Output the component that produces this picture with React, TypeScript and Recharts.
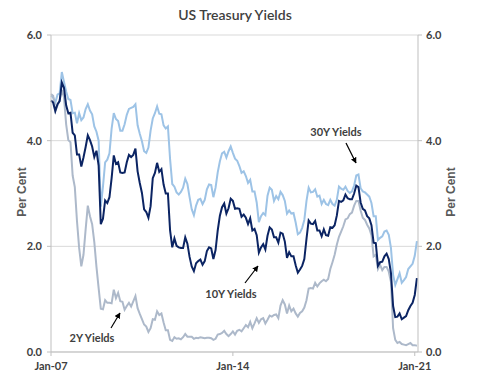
import { LineChart, Line, XAxis, YAxis, CartesianGrid } from "recharts";

// monthly yields, Jan-07 .. Feb-21 (per cent)
const yields30 = [
  4.85, 4.82, 4.72, 4.87, 4.9, 5.3, 5.11, 4.93, 4.79, 4.77, 4.52, 4.53,
  4.33, 4.52, 4.39, 4.44, 4.6, 4.69, 4.57, 4.5, 4.27, 4.17, 4.0, 2.75,
  3.13, 3.59, 3.64, 3.76, 4.23, 4.52, 4.41, 4.37, 4.19, 4.19, 4.31, 4.49,
  4.6, 4.62, 4.64, 4.69, 4.29, 4.13, 3.99, 3.8, 3.77, 3.87, 4.19, 4.42,
  4.52, 4.65, 4.51, 4.5, 4.29, 4.23, 4.27, 3.65, 3.18, 3.13, 3.02, 2.98,
  3.03, 3.11, 3.28, 3.18, 2.93, 2.7, 2.59, 2.77, 2.88, 2.9, 2.8, 2.88,
  3.08, 3.17, 3.16, 2.93, 3.11, 3.4, 3.61, 3.76, 3.79, 3.68, 3.8, 3.89,
  3.77, 3.66, 3.62, 3.52, 3.39, 3.42, 3.33, 3.2, 3.26, 3.04, 3.04, 2.83,
  2.46, 2.57, 2.63, 2.59, 2.96, 3.11, 3.07, 2.86, 2.95, 2.89, 3.03, 2.97,
  2.86, 2.62, 2.68, 2.62, 2.63, 2.45, 2.23, 2.26, 2.35, 2.5, 2.86, 3.11,
  3.02, 3.03, 3.08, 2.94, 2.96, 2.8, 2.88, 2.8, 2.78, 2.88, 2.8, 2.77,
  2.88, 3.13, 3.09, 3.07, 3.13, 3.05, 3.01, 3.04, 3.15, 3.34, 3.36, 3.1,
  3.04, 3.02, 2.98, 2.94, 2.82, 2.57, 2.57, 2.12, 2.16, 2.19, 2.28, 2.3,
  2.22, 1.97, 1.46, 1.27, 1.38, 1.49, 1.31, 1.36, 1.42, 1.57, 1.62, 1.67,
  1.82, 2.1,
];

const yields10 = [
  4.76, 4.72, 4.56, 4.69, 4.75, 5.1, 5.0, 4.67, 4.52, 4.53, 4.15, 4.1,
  3.74, 3.74, 3.51, 3.68, 3.88, 4.1, 4.01, 3.89, 3.69, 3.81, 3.53, 2.42,
  2.52, 2.87, 2.82, 2.93, 3.29, 3.72, 3.56, 3.59, 3.4, 3.39, 3.4, 3.59,
  3.73, 3.69, 3.73, 3.85, 3.42, 3.2, 3.01, 2.7, 2.65, 2.54, 2.76, 3.29,
  3.39, 3.58, 3.41, 3.46, 3.17, 3.0, 3.0, 2.3, 1.98, 2.15, 2.01, 1.98,
  1.97, 1.97, 2.17, 2.05, 1.8, 1.62, 1.53, 1.68, 1.72, 1.75, 1.65, 1.72,
  1.91, 1.98, 1.96, 1.76, 1.93, 2.3, 2.58, 2.74, 2.81, 2.62, 2.72, 2.9,
  2.86, 2.71, 2.72, 2.71, 2.56, 2.6, 2.54, 2.42, 2.53, 2.3, 2.33, 2.21,
  1.88, 1.98, 2.04, 1.94, 2.2, 2.36, 2.32, 2.17, 2.17, 2.07, 2.26, 2.24,
  2.09, 1.78, 1.89, 1.81, 1.81, 1.64, 1.5, 1.56, 1.63, 1.76, 2.14, 2.49,
  2.43, 2.42, 2.48, 2.3, 2.3, 2.19, 2.32, 2.21, 2.2, 2.36, 2.35, 2.4,
  2.58, 2.86, 2.84, 2.87, 2.98, 2.91, 2.89, 2.89, 3.0, 3.15, 3.12, 2.83,
  2.71, 2.68, 2.57, 2.53, 2.4, 2.07, 2.06, 1.63, 1.7, 1.71, 1.81, 1.86,
  1.76, 1.5, 0.87, 0.66, 0.67, 0.73, 0.62, 0.65, 0.68, 0.79, 0.87, 0.93,
  1.08, 1.4,
];

const yields2 = [
  4.88, 4.85, 4.57, 4.67, 4.77, 4.96, 4.82, 4.31, 4.01, 3.97, 3.34, 3.12,
  2.48, 1.97, 1.62, 1.84, 2.32, 2.77, 2.57, 2.42, 2.08, 1.61, 1.21, 0.82,
  0.81, 0.98, 0.93, 0.93, 0.92, 1.18, 1.02, 1.12, 0.96, 0.95, 0.8, 0.87,
  0.93, 0.86, 0.96, 1.06, 0.83, 0.72, 0.62, 0.52, 0.48, 0.38, 0.45, 0.62,
  0.61, 0.77, 0.7, 0.73, 0.56, 0.41, 0.41, 0.23, 0.21, 0.28, 0.25, 0.26,
  0.24, 0.28, 0.34, 0.29, 0.29, 0.29, 0.25, 0.27, 0.26, 0.28, 0.27, 0.26,
  0.27, 0.27, 0.26, 0.23, 0.25, 0.33, 0.34, 0.36, 0.4, 0.34, 0.3, 0.34,
  0.39, 0.33, 0.4, 0.42, 0.39, 0.45, 0.51, 0.47, 0.57, 0.45, 0.54, 0.64,
  0.55, 0.62, 0.64, 0.54, 0.61, 0.69, 0.67, 0.7, 0.71, 0.64, 0.88, 0.98,
  0.9, 0.73, 0.88, 0.77, 0.82, 0.73, 0.67, 0.74, 0.77, 0.84, 0.98, 1.2,
  1.21, 1.2, 1.31, 1.24, 1.3, 1.34, 1.37, 1.34, 1.38, 1.57, 1.7, 1.84,
  2.03, 2.18, 2.28, 2.38, 2.51, 2.53, 2.61, 2.64, 2.77, 2.86, 2.86, 2.68,
  2.54, 2.5, 2.41, 2.34, 2.21, 1.81, 1.84, 1.57, 1.65, 1.55, 1.61, 1.61,
  1.52, 1.33, 0.45, 0.23, 0.17, 0.19, 0.15, 0.14, 0.13, 0.15, 0.17, 0.13,
  0.13, 0.12,
];

// month offsets from Jan-07 for the date ticks
const xTicks = [0, 84, 168];
const xTickLabels = ["Jan-07", "Jan-14", "Jan-21"];
const yTicks = [0, 2, 4, 6];

const data = yields10.map((v, i) => ({ m: i, y30: yields30[i], y10: v, y2: yields2[i] }));

const tickFont = { fontSize: 11, fill: "#404040", fontWeight: 700, fontFamily: "Lato, sans-serif" };
const noteStyle = { fontSize: 11, fill: "#404040", fontWeight: 700, fontFamily: "Lato, sans-serif" };

export default function App() {
  return (
    <div style={{ position: "absolute", left: 0, top: 0, width: 488, height: 387, background: "#fff" }}>
      <LineChart width={488} height={387} data={data} margin={{ top: 35, right: 0, bottom: 0, left: 0 }}>
        <CartesianGrid vertical={false} stroke="#D9D9D9" yAxisId="left" />
        <XAxis
          dataKey="m"
          type="number"
          domain={[0, 169.5]}
          ticks={xTicks}
          tickFormatter={(v: number) => xTickLabels[xTicks.indexOf(v)]}
          tick={tickFont}
          tickSize={4}
          tickMargin={6}
          height={35}
          axisLine={{ stroke: "#BFBFBF" }}
          tickLine={{ stroke: "#BFBFBF" }}
        />
        <YAxis
          yAxisId="left"
          type="number"
          domain={[0, 6]}
          ticks={yTicks}
          tickFormatter={(v: number) => v.toFixed(1)}
          tick={tickFont}
          width={51}
          tickSize={4}
          tickMargin={5}
          axisLine={{ stroke: "#BFBFBF" }}
          tickLine={{ stroke: "#BFBFBF" }}
        />
        <YAxis
          yAxisId="right"
          type="number"
          orientation="right"
          domain={[0, 6]}
          ticks={yTicks}
          tickFormatter={(v: number) => v.toFixed(1)}
          tick={tickFont}
          width={70}
          tickSize={4}
          tickMargin={4}
          axisLine={{ stroke: "#BFBFBF" }}
          tickLine={{ stroke: "#BFBFBF" }}
        />
        <Line yAxisId="right" type="linear" dataKey="y30" stroke="#9DC3E6" strokeWidth={2} dot={false} isAnimationActive={false} />
        <Line yAxisId="left" type="linear" dataKey="y2" stroke="#ADB9CA" strokeWidth={2} dot={false} isAnimationActive={false} />
        <Line yAxisId="left" type="linear" dataKey="y10" stroke="#0B2463" strokeWidth={2} dot={false} isAnimationActive={false} />
      </LineChart>

      <svg width={488} height={387} style={{ position: "absolute", left: 0, top: 0, pointerEvents: "none" }}>
        <defs>
          <marker id="arrow" viewBox="0 0 10 10" refX="9" refY="5" markerWidth="5" markerHeight="5" orient="auto">
            <path d="M0,0 L10,5 L0,10 z" fill="#000" />
          </marker>
        </defs>
        <text x={235} y={20} textAnchor="middle" style={{ fontSize: 14, fill: "#404040", fontWeight: 600, fontFamily: "Lato, sans-serif" }}>
          US Treasury Yields
        </text>
        <text transform="translate(26,192) rotate(-90)" textAnchor="middle" style={{ fontSize: 12, fill: "#595959", fontWeight: 700, fontFamily: "Liberation Sans, Arial, sans-serif" }}>
          Per Cent
        </text>
        <text transform="translate(455,192) rotate(-90)" textAnchor="middle" style={{ fontSize: 12, fill: "#595959", fontWeight: 700, fontFamily: "Liberation Sans, Arial, sans-serif" }}>
          Per Cent
        </text>

        <text x={336} y={136} textAnchor="middle" style={noteStyle}>30Y Yields</text>
        <line x1={346} y1={143} x2={356} y2={163} stroke="#000" strokeWidth={1.2} markerEnd="url(#arrow)" />

        <text x={231} y={298} textAnchor="middle" style={noteStyle}>10Y Yields</text>
        <line x1={245} y1={283} x2={258} y2={266} stroke="#000" strokeWidth={1.2} markerEnd="url(#arrow)" />

        <text x={92} y={342} textAnchor="middle" style={noteStyle}>2Y Yields</text>
        <line x1={111} y1={328} x2={120} y2={313} stroke="#000" strokeWidth={1.2} markerEnd="url(#arrow)" />
      </svg>
    </div>
  );
}
